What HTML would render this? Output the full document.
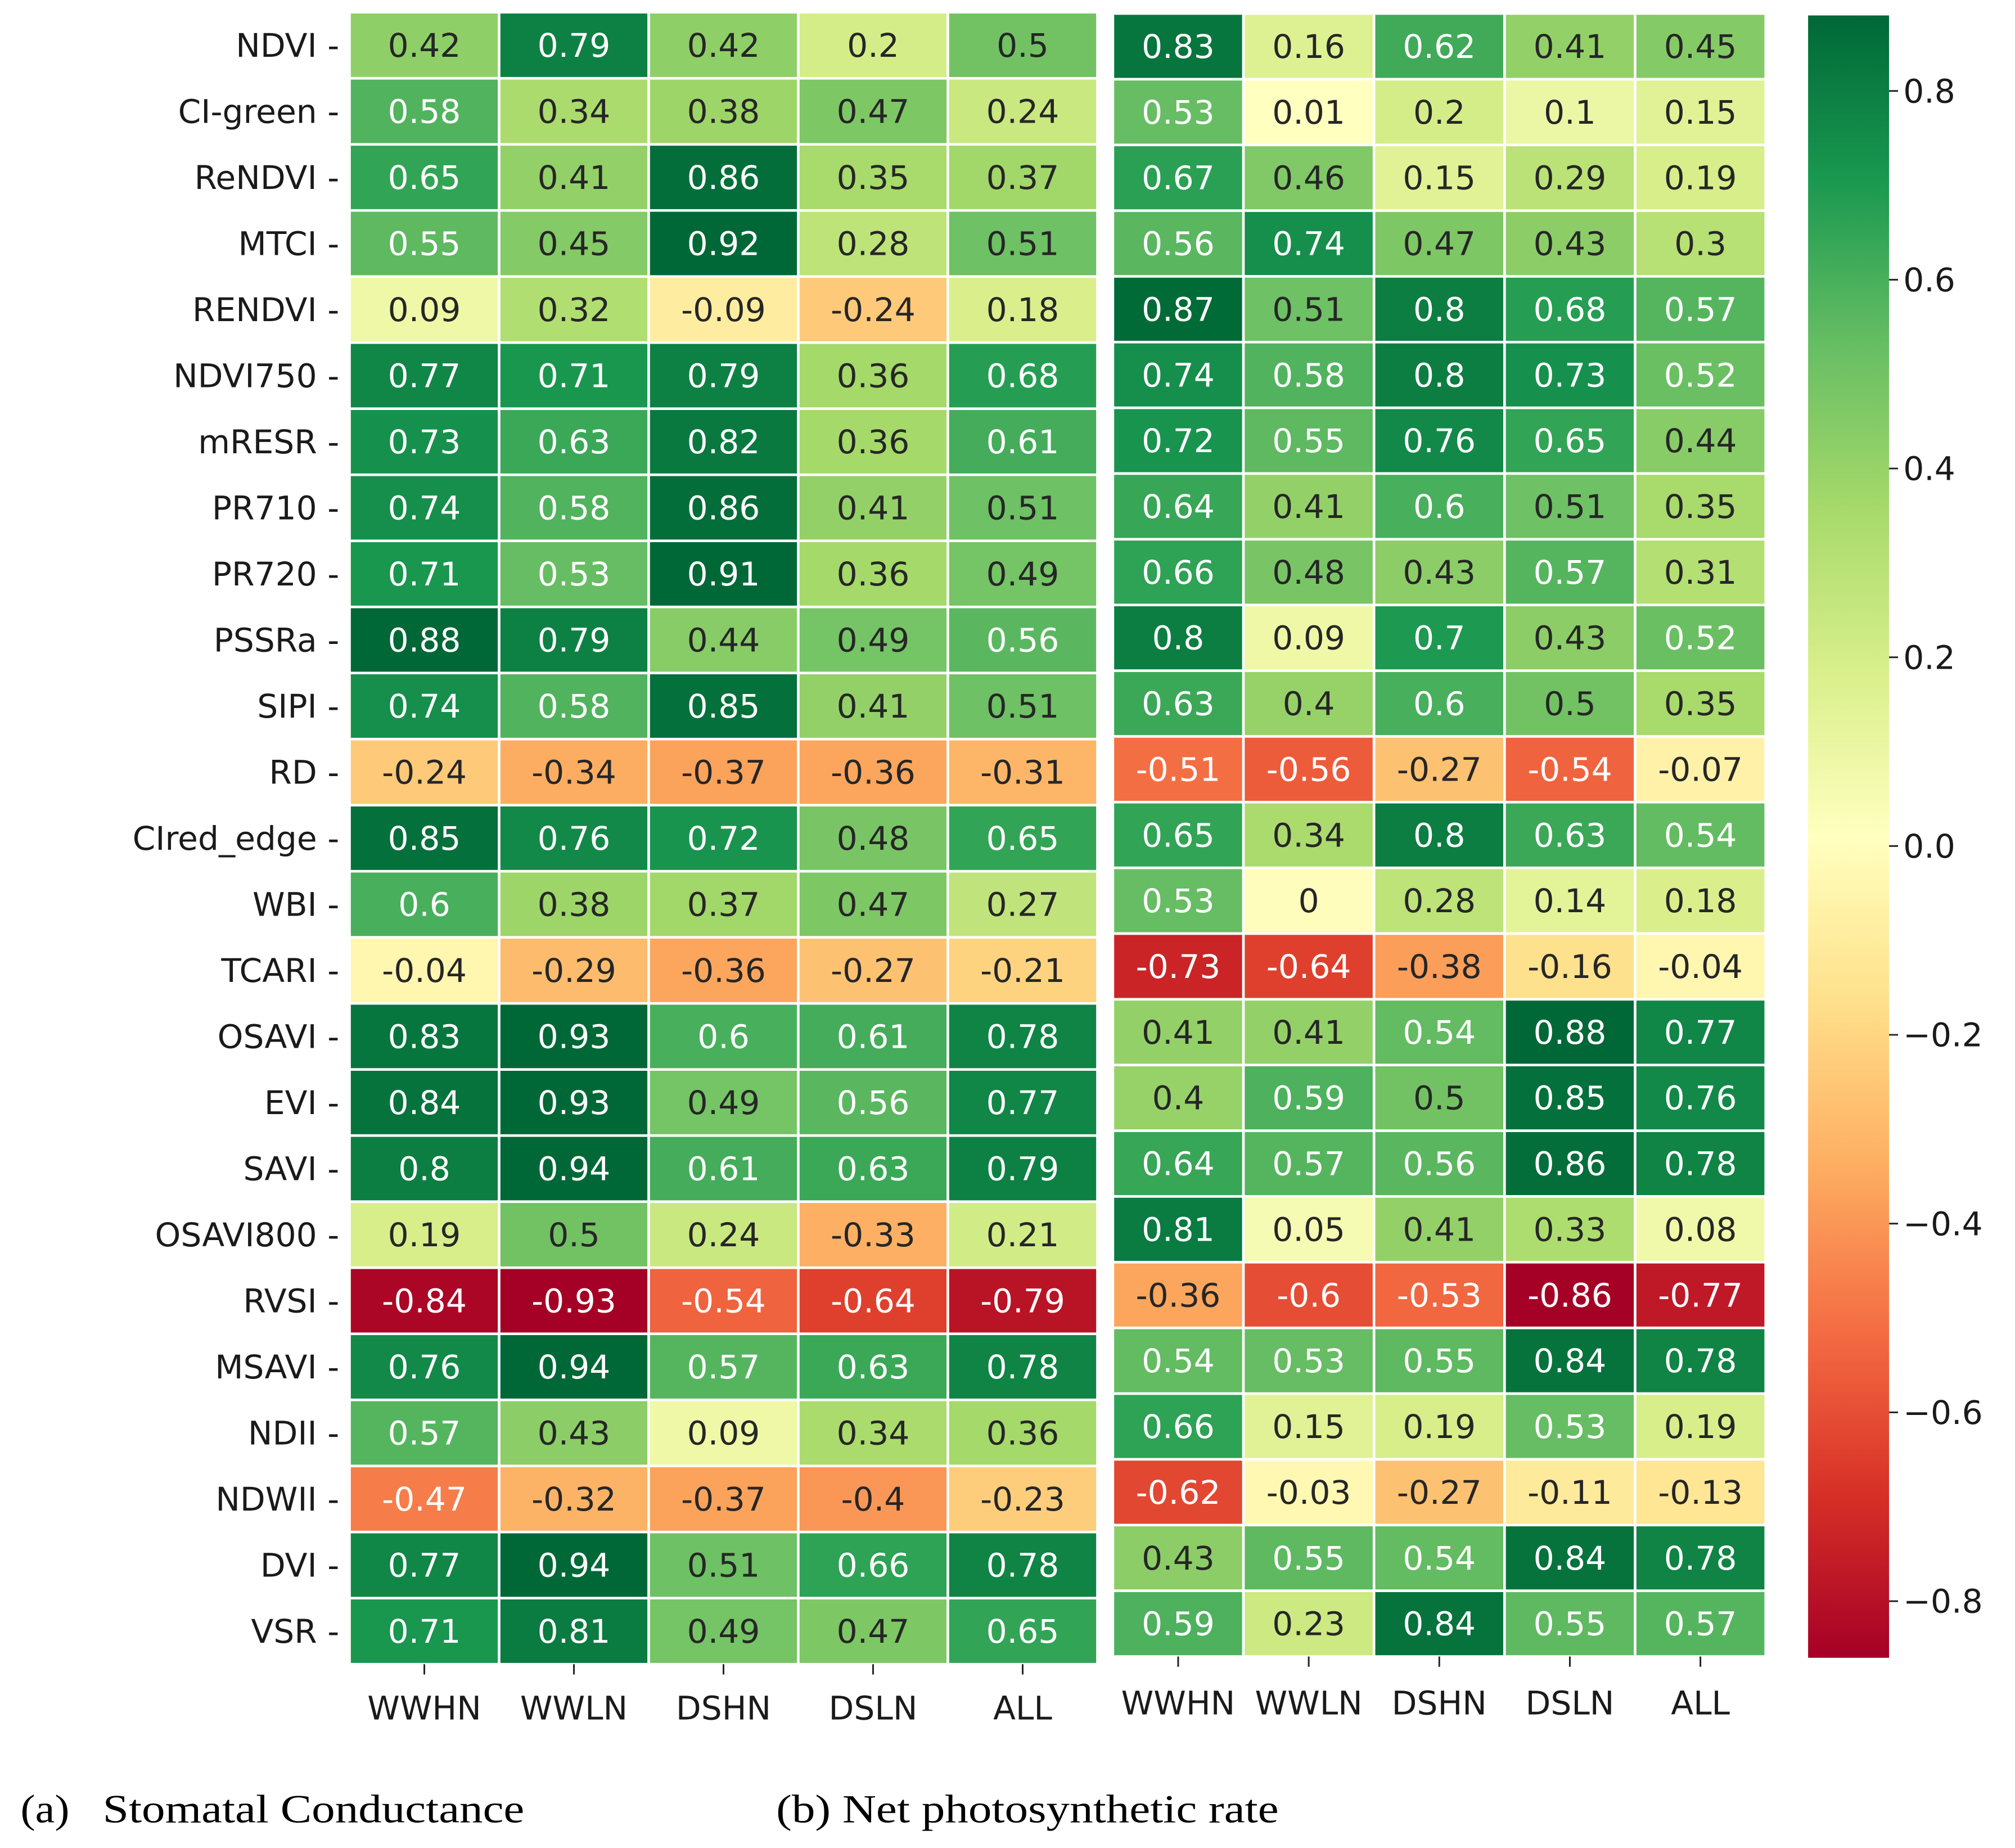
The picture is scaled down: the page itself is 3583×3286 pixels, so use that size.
<!DOCTYPE html>
<html><head><meta charset="utf-8">
<style>
html,body{margin:0;padding:0;background:#fff;}
svg{display:block;}
text{font-family:"DejaVu Sans","Liberation Sans",sans-serif;}
.cap{font-family:"Liberation Serif","DejaVu Serif",serif;}
</style></head>
<body>
<svg id="chart" width="3583" height="3286" viewBox="0 0 1568 1438" xmlns="http://www.w3.org/2000/svg">
<defs>
<linearGradient id="cbgrad" x1="0" y1="1" x2="0" y2="0"></linearGradient>
</defs>
<g id="left"></g>
<g id="right"></g>
<g id="cbar"></g>
<text class="cap" x="16" y="1418" font-size="31" textLength="38" lengthAdjust="spacingAndGlyphs">(a)</text>
<text class="cap" x="80" y="1418" font-size="31" textLength="328" lengthAdjust="spacingAndGlyphs">Stomatal Conductance</text>
<text class="cap" x="604" y="1418" font-size="31" textLength="391" lengthAdjust="spacingAndGlyphs">(b) Net photosynthetic rate</text>
</svg>
<script>
const rowLabels = ["NDVI","CI-green","ReNDVI","MTCI","RENDVI","NDVI750","mRESR","PR710","PR720","PSSRa","SIPI","RD","CIred_edge","WBI","TCARI","OSAVI","EVI","SAVI","OSAVI800","RVSI","MSAVI","NDII","NDWII","DVI","VSR"];
const colLabels = ["WWHN","WWLN","DSHN","DSLN","ALL"];
const valuesA = [
[0.42,0.79,0.42,0.2,0.5],[0.58,0.34,0.38,0.47,0.24],[0.65,0.41,0.86,0.35,0.37],[0.55,0.45,0.92,0.28,0.51],
[0.09,0.32,-0.09,-0.24,0.18],[0.77,0.71,0.79,0.36,0.68],[0.73,0.63,0.82,0.36,0.61],[0.74,0.58,0.86,0.41,0.51],
[0.71,0.53,0.91,0.36,0.49],[0.88,0.79,0.44,0.49,0.56],[0.74,0.58,0.85,0.41,0.51],[-0.24,-0.34,-0.37,-0.36,-0.31],
[0.85,0.76,0.72,0.48,0.65],[0.6,0.38,0.37,0.47,0.27],[-0.04,-0.29,-0.36,-0.27,-0.21],[0.83,0.93,0.6,0.61,0.78],
[0.84,0.93,0.49,0.56,0.77],[0.8,0.94,0.61,0.63,0.79],[0.19,0.5,0.24,-0.33,0.21],[-0.84,-0.93,-0.54,-0.64,-0.79],
[0.76,0.94,0.57,0.63,0.78],[0.57,0.43,0.09,0.34,0.36],[-0.47,-0.32,-0.37,-0.4,-0.23],[0.77,0.94,0.51,0.66,0.78],
[0.71,0.81,0.49,0.47,0.65]];
const valuesB = [
[0.83,0.16,0.62,0.41,0.45],[0.53,0.01,0.2,0.1,0.15],[0.67,0.46,0.15,0.29,0.19],[0.56,0.74,0.47,0.43,0.3],
[0.87,0.51,0.8,0.68,0.57],[0.74,0.58,0.8,0.73,0.52],[0.72,0.55,0.76,0.65,0.44],[0.64,0.41,0.6,0.51,0.35],
[0.66,0.48,0.43,0.57,0.31],[0.8,0.09,0.7,0.43,0.52],[0.63,0.4,0.6,0.5,0.35],[-0.51,-0.56,-0.27,-0.54,-0.07],
[0.65,0.34,0.8,0.63,0.54],[0.53,0,0.28,0.14,0.18],[-0.73,-0.64,-0.38,-0.16,-0.04],[0.41,0.41,0.54,0.88,0.77],
[0.4,0.59,0.5,0.85,0.76],[0.64,0.57,0.56,0.86,0.78],[0.81,0.05,0.41,0.33,0.08],[-0.36,-0.6,-0.53,-0.86,-0.77],
[0.54,0.53,0.55,0.84,0.78],[0.66,0.15,0.19,0.53,0.19],[-0.62,-0.03,-0.27,-0.11,-0.13],[0.43,0.55,0.54,0.84,0.78],
[0.59,0.23,0.84,0.55,0.57]];
const cbTicks = [0.8,0.6,0.4,0.2,0.0,-0.2,-0.4,-0.6,-0.8];
const vmin = -0.86, vmax = 0.88;

const NS="http://www.w3.org/2000/svg";
const FS=25.5;
const stops=["#a50026","#d73027","#f46d43","#fdae61","#fee08b","#ffffbf","#d9ef8b","#a6d96a","#66bd63","#1a9850","#006837"];
function hex(h){return [1,3,5].map(i=>parseInt(h.substr(i,2),16));}
function cmapRGB(v){let t=(v-vmin)/(vmax-vmin);t=Math.max(0,Math.min(1,t));const p=t*10,i=Math.min(9,Math.floor(p)),f=p-i;const a=hex(stops[i]),b=hex(stops[i+1]);return a.map((c,k)=>Math.round(c+(b[k]-c)*f));}
function lum(c){const l=c.map(x=>{x/=255;return x<=0.03928?x/12.92:Math.pow((x+0.055)/1.055,2.4);});return 0.2126*l[0]+0.7152*l[1]+0.0722*l[2];}
function mk(tag,attrs,parent){const e=document.createElementNS(NS,tag);for(const k in attrs)e.setAttribute(k,attrs[k]);parent.appendChild(e);return e;}

function drawHeat(gid,vals,x0,x1,y0,y1,xlabY,showY){
  const g=document.getElementById(gid);
  const cw=(x1-x0)/colLabels.length, rh=(y1-y0)/rowLabels.length;
  const xs=j=>x0+j*cw, ys=i=>y0+i*rh;
  vals.forEach((row,i)=>row.forEach((v,j)=>{
    const c=cmapRGB(v);
    const r=mk('rect',{x:xs(j),y:ys(i),width:cw,height:rh,fill:`rgb(${c})`,stroke:'#fff','stroke-width':2},g);
    
    
    const t=mk('text',{x:xs(j)+cw/2,y:ys(i)+rh/2+9,'text-anchor':'middle','font-size':FS,fill:lum(c)<0.42?'#fff':'#262626'},g);
    t.textContent=String(v);
    
    
  }));
  if(showY){rowLabels.forEach((l,i)=>{
    const t=mk('text',{x:x0-8,y:ys(i)+rh/2+9,'text-anchor':'end','font-size':FS,fill:'#1a1a1a'},g);
    t.textContent=l+' -';
    
    
  });}
  colLabels.forEach((l,j)=>{
    const cx=xs(j)+cw/2;
    mk('line',{x1:cx,y1:y1,x2:cx,y2:y1+8,stroke:'#222','stroke-width':1.3},g);
    const t=mk('text',{x:cx,y:xlabY,'text-anchor':'middle','font-size':FS,fill:'#1a1a1a'},g);
    t.textContent=l;
    
    
  });
}
drawHeat('left',valuesA,272,854,9.5,1295,1338,true);
drawHeat('right',valuesB,866,1374,10.5,1289,1334,false);

const grad=document.getElementById('cbgrad');
for(let k=0;k<=20;k++){const v=vmin+(vmax-vmin)*k/20;mk('stop',{offset:(k/20),'stop-color':`rgb(${cmapRGB(v)})`},grad);}
const cb=document.getElementById('cbar');
const cbTop=12,cbBot=1290,cx0=1407,cx1=1470;
const cy=v=>cbTop+(vmax-v)/(vmax-vmin)*(cbBot-cbTop);
const cr=mk('rect',{x:cx0,y:cbTop,width:cx1-cx0,height:cbBot-cbTop,fill:'url(#cbgrad)'},cb);


cbTicks.forEach(v=>{
  const y=cy(v);
  mk('line',{x1:cx1,y1:y,x2:cx1+7,y2:y,stroke:'#222','stroke-width':1.3},cb);
  const t=mk('text',{x:cx1+11,y:y+9,'font-size':FS,fill:'#1a1a1a'},cb);
  t.textContent=(v<0?'\u2212':'')+Math.abs(v).toFixed(1);
  
  
});
</script>
</body></html>
